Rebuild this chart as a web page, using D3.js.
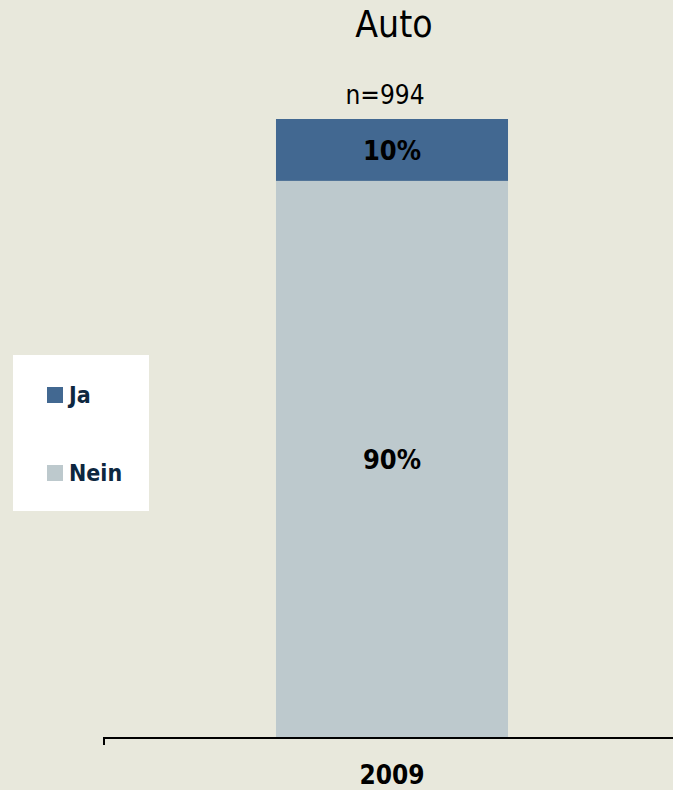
<!DOCTYPE html>
<html>
<head>
<meta charset="utf-8">
<script src="https://cdn.jsdelivr.net/npm/d3@7"></script>
<style>
  body { margin: 0; background: #e8e8dc; }
  svg { display: block; font-family: "DejaVu Sans Condensed", "DejaVu Sans", sans-serif; }
</style>
</head>
<body>
<div id="container"></div>
<script>
/* DATA */
const years = ["2009"];
const seriesNames = ["Nein", "Ja"];
const nein = [90];
const ja = [10];
const sampleSizes = [994];
const colors = ["#bdc9cd", "#426891"];

const width = 673, height = 790;

const svg = d3.select("#container")
  .append("svg")
  .attr("width", width)
  .attr("height", height);

svg.append("rect").attr("width", width).attr("height", height).attr("fill", "#e8e8dc");

/* SCALES */
const xScale = d3.scaleBand()
  .domain(years)
  .range([104, 680])
  .padding(0.4257);

const yScale = d3.scaleLinear()
  .domain([0, 100])
  .range([738, 119]);

const colorScale = d3.scaleOrdinal().domain(seriesNames).range(colors);

const table = years.map((y, i) => ({ year: y, Nein: nein[i], Ja: ja[i], n: sampleSizes[i] }));
const stacked = d3.stack().keys(seriesNames)(table);

/* BARS */
const layers = svg.append("g")
  .selectAll("g")
  .data(stacked)
  .join("g")
  .attr("fill", d => colorScale(d.key));

layers.selectAll("rect")
  .data(d => d)
  .join("rect")
  .attr("x", d => xScale(d.data.year))
  .attr("width", xScale.bandwidth())
  .attr("y", d => yScale(d[1]))
  .attr("height", d => yScale(d[0]) - yScale(d[1]));

layers.selectAll("text")
  .data(d => d)
  .join("text")
  .attr("x", d => xScale(d.data.year) + xScale.bandwidth() / 2)
  .attr("y", d => (yScale(d[0]) + yScale(d[1])) / 2)
  .attr("dy", "0.36em")
  .attr("text-anchor", "middle")
  .attr("fill", "#000")
  .style("font-size", "27px")
  .style("font-weight", "bold")
  .text(d => (d[1] - d[0]) + "%");

/* X AXIS */
const axis = svg.append("g")
  .attr("transform", "translate(0,738)")
  .call(d3.axisBottom(xScale).tickSize(0).tickPadding(28))
  .attr("font-family", null)
  .attr("font-size", null);
axis.select(".domain").remove();
axis.selectAll("text")
  .style("font-size", "26px")
  .style("font-weight", "bold")
  .attr("fill", "#000");

svg.append("path")
  .attr("d", "M104,745V738H680")
  .attr("fill", "none")
  .attr("stroke", "#000")
  .attr("stroke-width", 2);

/* TITLE AND N */
svg.append("text")
  .attr("x", 394)
  .attr("y", 37)
  .attr("text-anchor", "middle")
  .style("font-size", "37px")
  .text("Auto");

svg.selectAll(".ntext")
  .data(table)
  .join("text")
  .attr("class", "ntext")
  .attr("x", d => xScale(d.year) + xScale.bandwidth() / 2 - 7)
  .attr("y", 104)
  .attr("text-anchor", "middle")
  .style("font-size", "26px")
  .text(d => "n=" + d.n);

/* LEGEND */
const legend = svg.append("g");
legend.append("rect")
  .attr("x", 13).attr("y", 355)
  .attr("width", 136).attr("height", 156)
  .attr("fill", "#fff");

const legendItems = ["Ja", "Nein"];
const li = legend.selectAll(".item")
  .data(legendItems)
  .join("g")
  .attr("class", "item")
  .attr("transform", (d, i) => `translate(47,${387 + i * 78})`);

li.append("rect")
  .attr("width", 16).attr("height", 16)
  .attr("fill", d => colorScale(d));

li.append("text")
  .attr("x", 22)
  .attr("y", 8)
  .attr("dy", "0.36em")
  .attr("fill", "#0d2740")
  .style("font-size", "23px")
  .style("font-weight", "bold")
  .text(d => d);
</script>
</body>
</html>
